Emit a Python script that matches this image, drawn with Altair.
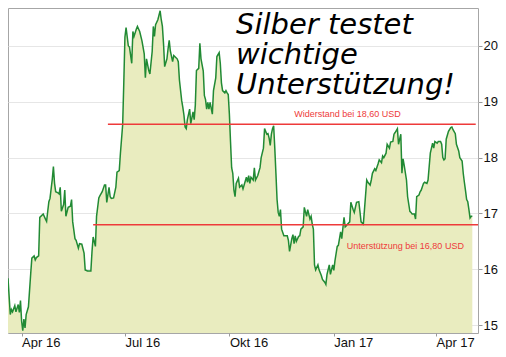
import json
import altair as alt
import pandas as pd

# ---------------- data ----------------
START = "2016-04-01"  # day offsets below are counted from this date
day_offsets = [
    -12, -10, -9, -8, -6, -5, -3, -2, -1, 0, 1, 2, 3, 4, 6, 8, 9, 11, 12, 13, 15, 16, 19, 21, 22,
    23, 24, 25, 27, 28, 29, 30, 32, 33, 34, 35, 37, 38, 39, 41, 43, 44, 45, 47, 48, 50, 51, 53,
    55, 56, 58, 61, 62, 63, 65, 66, 68, 69, 71, 73, 74, 75, 77, 78, 79, 81, 83, 84, 86, 87, 89,
    90, 91, 92, 94, 95, 97, 98, 99, 101, 102, 104, 106, 108, 109, 110, 112, 113, 115, 116, 117,
    118, 120, 122, 123, 124, 125, 126, 128, 129, 130, 131, 133, 134, 136, 137, 138, 139, 141,
    142, 143, 144, 145, 146, 148, 149, 151, 152, 153, 154, 156, 157, 158, 160, 161, 162, 163,
    164, 165, 166, 168, 169, 171, 172, 174, 175, 176, 177, 179, 180, 181, 182, 183, 184, 185,
    186, 187, 188, 189, 191, 192, 194, 195, 196, 198, 199, 200, 201, 202, 204, 205, 206, 208,
    210, 211, 213, 214, 216, 217, 218, 219, 220, 221, 222, 223, 224, 225, 226, 227, 228, 229,
    231, 232, 234, 235, 236, 238, 239, 240, 241, 242, 244, 245, 246, 248, 249, 251, 252, 254,
    255, 256, 257, 258, 259, 261, 262, 264, 265, 267, 268, 269, 271, 272, 274, 275, 276, 278,
    279, 281, 282, 284, 285, 286, 287, 289, 290, 292, 293, 295, 297, 298, 299, 301, 302, 304,
    305, 307, 308, 309, 311, 312, 314, 315, 317, 318, 319, 321, 322, 324, 325, 327, 328, 329,
    331, 332, 334, 335, 336, 337, 339, 340, 342, 343, 344, 346, 347, 348, 350, 351, 352, 354,
    355, 357, 358, 360, 361, 362, 363, 364, 366, 367, 369, 370, 371, 372, 373, 374, 376, 378,
    379, 380, 382, 383, 385, 386, 388, 389, 390, 391, 392, 393, 394, 395, 396, 397,
]
prices = [
    15.84, 15.19, 15.28, 15.24, 15.35, 15.24, 15.37, 15.23, 15.44, 15.07, 14.90, 15.11, 14.95,
    15.19, 15.33, 15.92, 16.20, 16.24, 16.17, 16.21, 16.24, 16.93, 16.99, 16.90, 16.86, 17.04,
    17.21, 17.27, 17.61, 17.84, 17.54, 17.39, 17.37, 17.35, 17.47, 17.04, 17.16, 17.42, 16.95,
    17.11, 17.13, 17.25, 16.85, 16.55, 16.52, 16.38, 16.46, 16.45, 16.29, 15.99, 15.97, 15.97,
    16.32, 16.58, 16.41, 16.95, 17.28, 17.32, 17.39, 17.51, 17.51, 17.20, 17.47, 17.30, 17.27,
    17.28, 17.47, 17.74, 17.77, 18.07, 18.59, 19.34, 20.16, 20.33, 20.00, 19.98, 19.69, 20.26,
    20.17, 20.30, 20.35, 20.26, 20.09, 19.86, 19.43, 19.77, 19.56, 19.50, 19.90, 20.35, 20.17,
    20.38, 20.47, 20.63, 20.47, 20.35, 20.04, 19.63, 19.77, 19.95, 20.10, 19.91, 19.72, 19.83,
    19.79, 19.77, 19.72, 19.39, 19.02, 18.90, 18.76, 18.55, 18.52, 18.68, 18.87, 18.61, 18.82,
    18.68, 18.94, 19.56, 19.60, 20.05, 19.77, 19.55, 19.11, 19.04, 18.87, 18.99, 18.87, 18.99,
    18.78, 19.20, 19.43, 19.81, 19.88, 19.69, 19.34, 19.20, 19.16, 19.20, 19.16, 19.13, 18.78,
    18.29, 17.82, 17.72, 17.42, 17.30, 17.54, 17.63, 17.47, 17.51, 17.44, 17.51, 17.65, 17.56,
    17.68, 17.54, 17.65, 17.60, 17.82, 17.60, 17.68, 17.82, 18.00, 18.17, 18.52, 18.42, 18.43,
    18.35, 18.22, 18.42, 18.52, 18.57, 18.17, 17.72, 17.25, 17.02, 16.95, 17.07, 16.72, 16.60,
    16.60, 16.60, 16.52, 16.32, 16.55, 16.62, 16.46, 16.60, 16.50, 16.59, 16.60, 16.72, 16.76,
    17.11, 16.95, 17.07, 16.90, 16.95, 16.81, 16.72, 16.08, 15.99, 16.08, 15.99, 15.89, 15.82,
    15.77, 15.73, 15.91, 16.08, 15.91, 16.08, 15.98, 16.15, 16.41, 16.43, 16.67, 16.55, 16.93,
    16.76, 16.78, 16.81, 16.85, 17.20, 17.07, 17.02, 17.20, 17.21, 17.04, 16.85, 16.81, 17.07,
    17.60, 17.56, 17.51, 17.60, 17.72, 17.80, 17.77, 17.89, 17.96, 17.91, 18.03, 18.00, 18.08,
    18.24, 18.17, 18.28, 18.29, 18.42, 18.45, 18.52, 18.24, 18.42, 17.72, 17.98, 17.86, 17.60,
    17.30, 17.04, 17.02, 16.99, 16.99, 16.90, 17.30, 17.33, 17.39, 17.42, 17.54, 17.56, 17.54,
    17.60, 18.08, 18.17, 18.26, 18.17, 18.29, 18.26, 18.29, 18.29, 18.24, 18.00, 17.96, 17.98,
    18.33, 18.47, 18.54, 18.55, 18.50, 18.43, 18.24, 18.12, 18.00, 17.94, 17.72, 17.56, 17.41,
    17.25, 17.21, 17.07, 16.92, 16.95, 16.95,
]

level_names = ["Widerstand bei 18,60 USD", "Unterstützung bei 16,80 USD"]
levels = [18.60, 16.80]
level_start_days = [76, 63]
level_end_days = [400, 402]
label_days = [287, 338]

month_names = ["Jan", "Feb", "Mär", "Apr", "Mai", "Jun", "Jul", "Aug", "Sep", "Okt", "Nov", "Dez"]
tick_dates = ["2016-04-01", "2016-07-01", "2016-10-01", "2017-01-01", "2017-04-01"]
x_domain_dates = ["2016-03-20", "2017-05-08"]
y_ticks = [15, 16, 17, 18, 19, 20]
y_domain = [14.86, 20.68]
title_lines = ["Silber testet", "wichtige", "Unterstützung!"]

# ---------------- build tables ----------------
base = pd.Timestamp(START)


def to_date(d):
    return (base + pd.Timedelta(days=d)).strftime("%Y-%m-%d")


def dt(s):
    t = pd.Timestamp(s)
    return alt.DateTime(year=t.year, month=t.month, date=t.day, utc=True)


df = pd.DataFrame({"date": [to_date(d) for d in day_offsets], "price": prices})
lv = pd.DataFrame({
    "name": level_names,
    "level": levels,
    "start": [to_date(d) for d in level_start_days],
    "end": [to_date(d) for d in level_end_days],
    "ldate": [to_date(d) for d in label_days],
})

FILL = "#e9ecbf"
LINE = "#218a34"
RED = "#ee3a3a"

label_expr = json.dumps(month_names) + "[utcmonth(datum.value)] + ' ' + utcFormat(datum.value, '%y')"

x_scale = alt.Scale(type="utc", domain=[dt(s) for s in x_domain_dates])
y_scale = alt.Scale(domain=y_domain, nice=False, zero=False)

x_enc = alt.X(
    "date:T",
    scale=x_scale,
    title=None,
    axis=alt.Axis(
        values=[dt(s) for s in tick_dates],
        labelExpr=label_expr,
        grid=False,
        domain=False,
        tickSize=3,
        tickColor="#9a9a9a",
        labelAlign="left",
        labelPadding=0,
        labelFont="Liberation Sans",
        labelFontSize=13,
        labelColor="#111111",
    ),
)
y_enc = alt.Y(
    "price:Q",
    scale=y_scale,
    title=None,
    axis=alt.Axis(
        orient="right",
        values=y_ticks,
        format="d",
        grid=True,
        gridColor="#e6e6e6",
        domain=False,
        tickSize=4,
        tickColor="#9a9a9a",
        labelPadding=1,
        labelFont="Liberation Sans",
        labelFontSize=13,
        labelColor="#111111",
    ),
)

area = alt.Chart(df).mark_area(color=FILL, opacity=1, clip=True).encode(x=x_enc, y=y_enc)
line = alt.Chart(df).mark_line(color=LINE, strokeWidth=1.5, clip=True).encode(
    x=alt.X("date:T", title=None), y=alt.Y("price:Q", title=None)
)

rules = alt.Chart(lv).mark_rule(color=RED, strokeWidth=1.5).encode(
    x=alt.X("start:T", title=None), x2="end:T", y=alt.Y("level:Q", title=None)
)

upper_label = alt.Chart(lv).transform_filter(alt.datum.level > 17.5).mark_text(
    color=RED, font="Liberation Sans", fontSize=9, dy=-10, align="center", baseline="middle"
).encode(x=alt.X("ldate:T", title=None), y=alt.Y("level:Q", title=None), text="name:N")

lower_label = alt.Chart(lv).transform_filter(alt.datum.level < 17.5).mark_text(
    color=RED, font="Liberation Sans", fontSize=9, dy=21, align="center", baseline="middle"
).encode(x=alt.X("ldate:T", title=None), y=alt.Y("level:Q", title=None), text="name:N")

headline = alt.Chart(pd.DataFrame({"k": [0]})).mark_text(
    text=title_lines,
    lineHeight=30,
    align="left",
    baseline="alphabetic",
    font="DejaVu Sans",
    fontStyle="italic",
    fontWeight=200,
    fontSize=29,
    color="#000000",
).encode(x=alt.value(228), y=alt.value(26))

chart = (
    alt.layer(area, line, rules, upper_label, lower_label, headline)
    .properties(width=470, height=325, padding=0, background="white")
    .configure_view(stroke="#a6a6a6", strokeWidth=1)
)

chart.save("out.html", embed_options={"renderer": "svg", "actions": False})
